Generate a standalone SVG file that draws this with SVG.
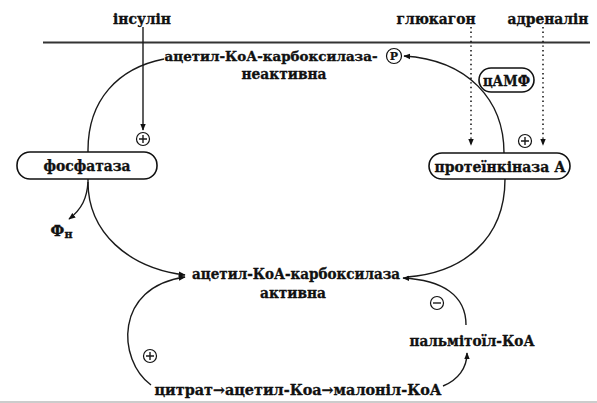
<svg xmlns="http://www.w3.org/2000/svg" width="597" height="403" viewBox="0 0 597 403">
<defs>
<style>
text{font-family:"DejaVu Serif","Liberation Serif",serif;font-weight:bold;font-size:14.5px;fill:#111;stroke:#111;stroke-width:0.35;text-anchor:middle}
.ln{fill:none;stroke:#1a1a1a;stroke-width:1.4}
.dot{fill:none;stroke:#1a1a1a;stroke-width:1.6;stroke-dasharray:1.4 3.2}
.box{fill:#fff;stroke:#111;stroke-width:1.6}
.sym{fill:#fff;stroke:#111;stroke-width:1.2}
</style>
<marker id="ah" viewBox="0 0 10 10" refX="9" refY="5" markerWidth="7" markerHeight="7" markerUnits="userSpaceOnUse" orient="auto">
<path d="M0,1 L10,5 L0,9 Z" fill="#111"/>
</marker>
</defs>
<rect width="597" height="403" fill="#fff"/>
<line x1="43" y1="42.5" x2="590" y2="42.5" stroke="#333" stroke-width="2"/>
<line x1="0" y1="402" x2="597" y2="402" stroke="#bbb" stroke-width="1.5"/>

<g id="connectors">
<line class="ln" x1="143" y1="27" x2="143" y2="130" marker-end="url(#ah)"/>
<line class="dot" x1="471" y1="27" x2="471" y2="145" marker-end="url(#ah)"/>
<line class="dot" x1="543" y1="27" x2="543" y2="145" marker-end="url(#ah)"/>
<path class="ln" d="M164,59 C118,68 88,100 88,150 L88,182 C88,232 128,268 185,275" marker-end="url(#ah)"/>
<path class="ln" d="M88,182 C87,198 82,209 69,219" marker-end="url(#ah)"/>
<path class="ln" d="M504,153 C504,100 468,60 404,56" marker-end="url(#ah)"/>
<path class="ln" d="M505,179 C505,240 462,273 407,277"/>
<path class="ln" d="M466,325 C466,295 442,280 403,278" marker-end="url(#ah)"/>
<path class="ln" d="M443,386 C458,380 467,368 467,353" marker-end="url(#ah)"/>
<path class="ln" d="M151,385 C117,360 114,287 185,277" marker-end="url(#ah)"/>
</g>

<g id="n-insulin"><text x="142" y="24" textLength="58" lengthAdjust="spacingAndGlyphs">інсулін</text></g>
<g id="n-glucagon"><text x="436" y="24" textLength="79" lengthAdjust="spacingAndGlyphs">глюкагон</text></g>
<g id="n-adrenalin"><text x="548" y="24" textLength="81" lengthAdjust="spacingAndGlyphs">адреналін</text></g>

<g id="n-inactive">
<text x="271" y="60.5" textLength="213" lengthAdjust="spacingAndGlyphs" style="font-size:13.5px">ацетил-КоА-карбоксилаза-</text>
<circle class="sym" cx="394" cy="56" r="7.5"/>
<text x="394" y="60" style="font-size:11px;stroke-width:0.2">P</text>
<text x="284" y="78.5" textLength="85" lengthAdjust="spacingAndGlyphs">неактивна</text>
</g>

<g id="n-camp">
<rect class="box" x="479" y="68" width="55" height="24" rx="12"/>
<text x="506.5" y="85.5" textLength="47" lengthAdjust="spacingAndGlyphs">цАМФ</text>
</g>

<g id="n-phosphatase">
<rect class="box" x="17" y="152" width="140" height="27" rx="13"/>
<text x="87" y="170.5" textLength="87" lengthAdjust="spacingAndGlyphs">фосфатаза</text>
</g>

<g id="n-pka">
<rect class="box" x="429" y="153" width="141" height="26" rx="13"/>
<text x="500" y="171.5" textLength="131" lengthAdjust="spacingAndGlyphs">протеїнкіназа А</text>
</g>

<g id="n-pi">
<text x="57.5" y="236">Ф</text>
<text x="68.5" y="237.5" style="font-size:11px">н</text>
</g>

<g id="n-active">
<text x="296" y="278.5" textLength="208" lengthAdjust="spacingAndGlyphs">ацетил-КоА-карбоксилаза</text>
<text x="293" y="297.5" textLength="66" lengthAdjust="spacingAndGlyphs">активна</text>
</g>

<g id="n-palmitoyl"><text x="472" y="345.5" textLength="125" lengthAdjust="spacingAndGlyphs">пальмітоїл-КоА</text></g>

<g id="n-citrate"><text x="298" y="394.5" textLength="287" lengthAdjust="spacingAndGlyphs">цитрат→ацетил-Коа→малоніл-КоА</text></g>

<g id="signs">
<circle class="sym" cx="143" cy="139" r="6.5"/>
<path class="ln" d="M139,139 H147 M143,135 V143"/>
<circle class="sym" cx="525" cy="141" r="6.5"/>
<path class="ln" d="M521,141 H529 M525,137 V145"/>
<circle class="sym" cx="150" cy="356" r="6.5"/>
<path class="ln" d="M146,356 H154 M150,352 V360"/>
<circle class="sym" cx="437" cy="303" r="6.5"/>
<path class="ln" d="M433,303 H441"/>
</g>
</svg>
